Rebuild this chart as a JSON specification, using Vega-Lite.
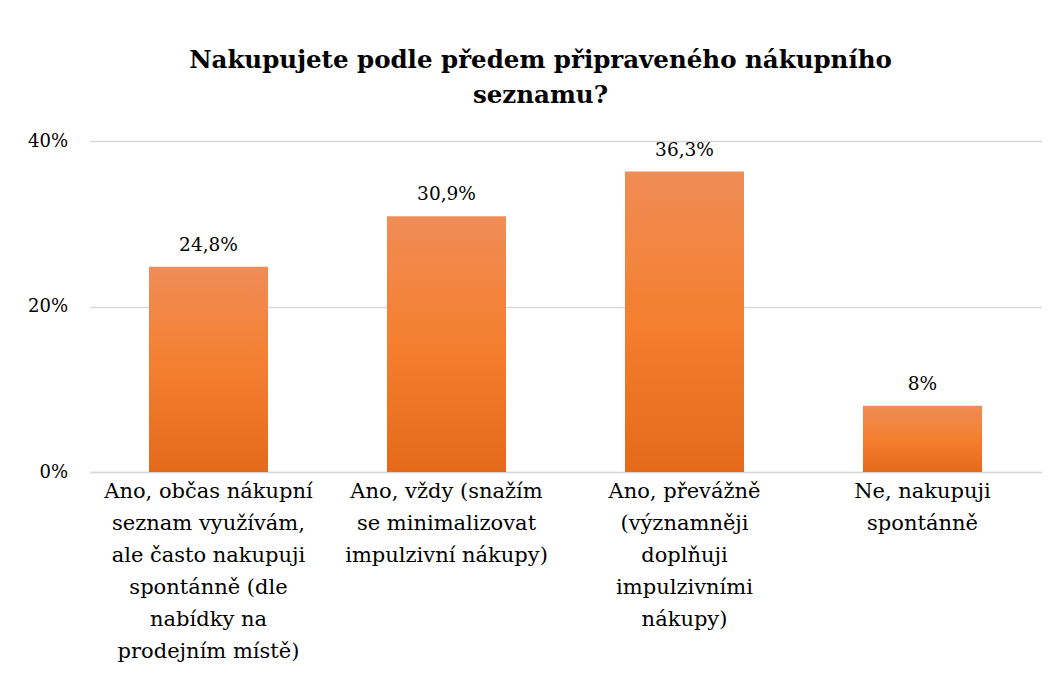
{
  "$schema": "https://vega.github.io/schema/vega-lite/v6.json",
  "width": 952,
  "height": 331,
  "autosize": "none",
  "padding": {"left": 89.5, "top": 141, "right": 17.5, "bottom": 219},
  "background": "white",
  "title": {
    "text": ["Nakupujete podle předem připraveného nákupního", "seznamu?"],
    "font": "DejaVu Serif",
    "fontSize": 24.5,
    "fontWeight": "bold",
    "color": "#000000",
    "lineHeight": 35,
    "anchor": "middle",
    "dx": -25,
    "offset": 24
  },
  "data": {
    "values": [
      {"cat": "Ano, občas nákupní|seznam využívám,|ale často nakupuji|spontánně (dle|nabídky na|prodejním místě)", "value": 0.248, "label": "24,8%", "order": 1},
      {"cat": "Ano, vždy (snažím|se minimalizovat|impulzivní nákupy)", "value": 0.309, "label": "30,9%", "order": 2},
      {"cat": "Ano, převážně|(významněji|doplňuji|impulzivními|nákupy)", "value": 0.363, "label": "36,3%", "order": 3},
      {"cat": "Ne, nakupuji|spontánně", "value": 0.08, "label": "8%", "order": 4}
    ]
  },
  "encoding": {
    "x": {
      "field": "cat",
      "type": "nominal",
      "sort": {"field": "order"},
      "scale": {"paddingInner": 0.5, "paddingOuter": 0.25},
      "axis": {
        "title": null,
        "labelAngle": 0,
        "labelExpr": "split(datum.label, '|')",
        "labelFont": "DejaVu Serif",
        "labelFontSize": 21,
        "labelLineHeight": 32,
        "labelColor": "#000000",
        "labelPadding": 8,
        "labelBaseline": "top",
        "labelLimit": 0,
        "labelOverlap": false,
        "ticks": false,
        "domainColor": "#d9d9d9",
        "domainWidth": 1.5
      }
    },
    "y": {
      "field": "value",
      "type": "quantitative",
      "scale": {"domain": [0, 0.4]},
      "axis": {
        "title": null,
        "values": [0, 0.2, 0.4],
        "format": ".0%",
        "labelFont": "DejaVu Serif",
        "labelFontSize": 18,
        "labelColor": "#000000",
        "labelPadding": 22,
        "ticks": false,
        "domain": false,
        "gridColor": "#d9d9d9",
        "gridWidth": 1.5
      }
    }
  },
  "layer": [
    {
      "mark": {
        "type": "bar",
        "color": {
          "gradient": "linear",
          "x1": 0, "y1": 0, "x2": 0, "y2": 1,
          "stops": [
            {"offset": 0, "color": "#f08c56"},
            {"offset": 0.5, "color": "#f47f2e"},
            {"offset": 1, "color": "#e46a1a"}
          ]
        }
      }
    },
    {
      "mark": {
        "type": "text",
        "dy": -12,
        "baseline": "bottom",
        "font": "DejaVu Serif",
        "fontSize": 18.5,
        "color": "#000000"
      },
      "encoding": {"text": {"field": "label"}}
    }
  ],
  "config": {"view": {"stroke": null}}
}
